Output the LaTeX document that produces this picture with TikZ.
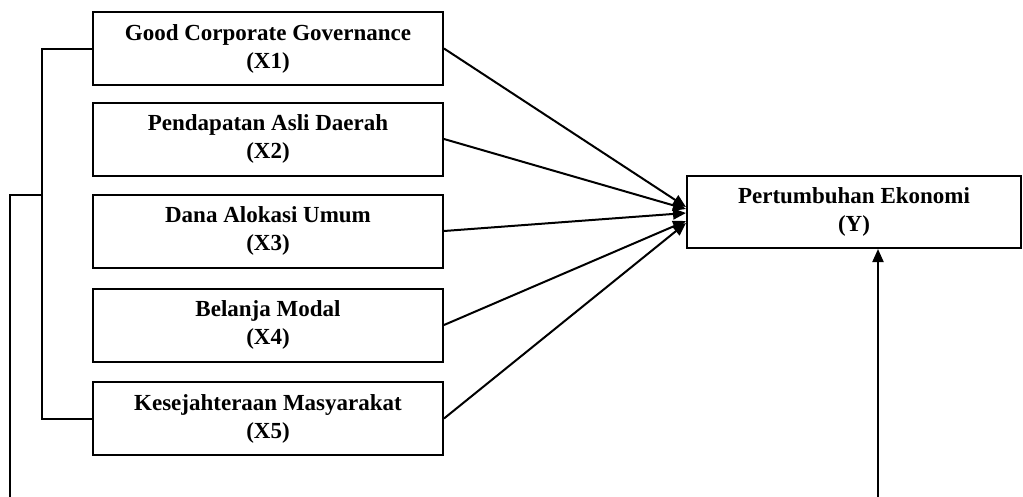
\documentclass[tikz,border=0pt]{standalone}
\usepackage{fontspec}
\setmainfont{Liberation Serif}
\usetikzlibrary{arrows.meta}
\begin{document}
\begin{tikzpicture}[x=1pt,y=1pt,
  varbox/.style={draw, line width=2pt, minimum height=73pt, inner sep=0pt,
    align=center, font=\fontsize{23}{28}\selectfont\bfseries},
  conn/.style={line width=2pt},
  arr/.style={line width=2pt, -{Triangle[length=13pt,width=11pt]}}]
\useasboundingbox (0,0) rectangle (1023,-496);
\node[varbox, minimum width=350pt] (X1) at (268,-48.5) {Good Corporate Governance\\(X1)};
\node[varbox, minimum width=350pt] (X2) at (268,-139) {Pendapatan Asli Daerah\\(X2)};
\node[varbox, minimum width=350pt] (X3) at (268,-231) {Dana Alokasi Umum\\(X3)};
\node[varbox, minimum width=350pt] (X4) at (268,-325) {Belanja Modal\\(X4)};
\node[varbox, minimum width=350pt] (X5) at (268,-418.5) {Kesejahteraan Masyarakat\\(X5)};
\node[varbox, minimum width=334pt, minimum height=72pt] (Y) at (854,-212) {Pertumbuhan Ekonomi\\(Y)};
% arrow end points on Y's left side
\coordinate (e1) at (686,-207);
\coordinate (e2) at (686,-209);
\coordinate (e3) at (686,-213);
\coordinate (e4) at (686,-221);
\coordinate (e5) at (686,-223);
\draw[arr] (X1.east) -- (e1);
\draw[arr] (X2.east) -- (e2);
\draw[arr] (X3.east) -- (e3);
\draw[arr] (X4.east) -- (e4);
\draw[arr] (X5.east) -- (e5);
% bracket joining X1..X5
\coordinate (bk) at (42,-200);
\draw[conn] (X1.west) -| (bk) |- (X5.west);
\coordinate (j) at (42,-195);
\coordinate (o1) at (10,-497);
\draw[conn] (j) -| (o1);
\coordinate (o2) at (878,-497);
\draw[arr] (o2) -- (o2 |- Y.south);
\end{tikzpicture}
\end{document}
